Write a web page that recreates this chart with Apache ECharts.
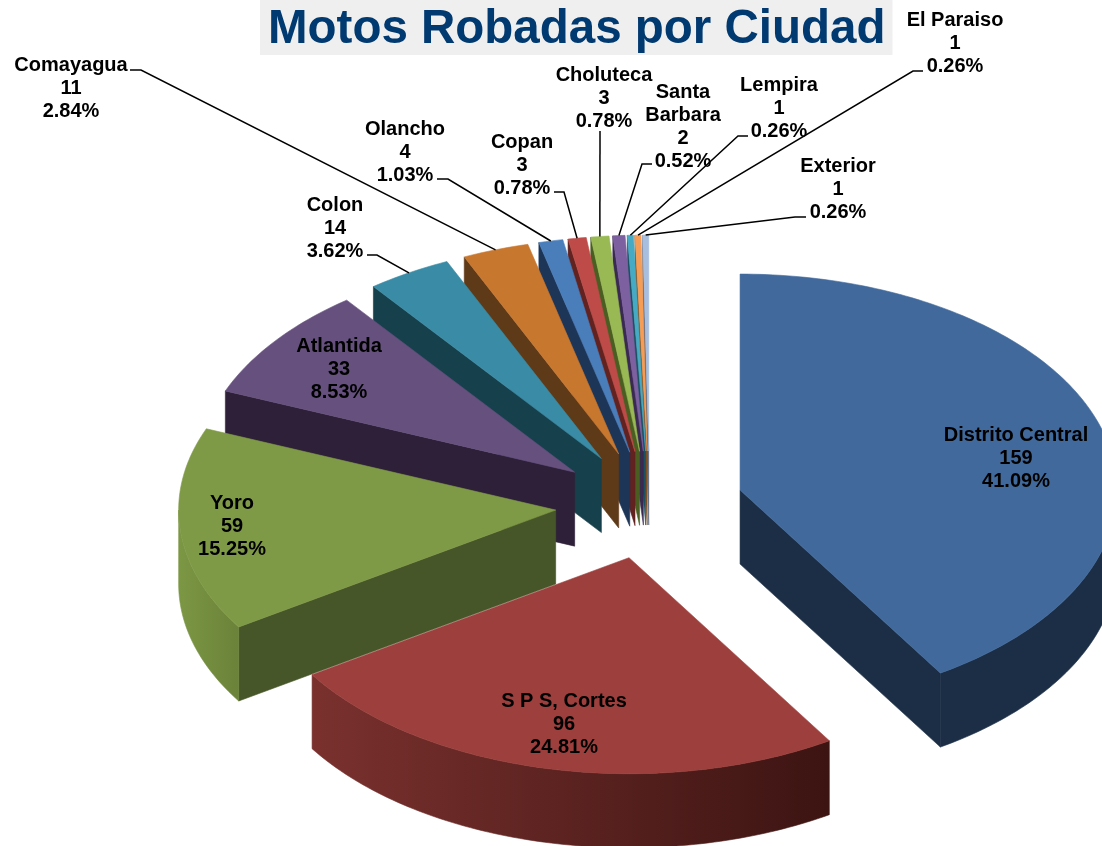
<!DOCTYPE html>
<html>
<head>
<meta charset="utf-8">
<title>Motos Robadas por Ciudad</title>
<script src="https://cdn.jsdelivr.net/npm/echarts@6/dist/echarts.min.js"></script>
<style>
  html, body { margin: 0; padding: 0; background: #fff; }
  #chart { width: 1102px; height: 846px; }
</style>
</head>
<body>
<div id="chart"></div>
<script>
const categories = ['Distrito Central', 'S P S, Cortes', 'Yoro', 'Atlantida', 'Colon', 'Comayagua', 'Olancho',
  'Copan', 'Choluteca', 'Santa\nBarbara', 'Lempira', 'El Paraiso', 'Exterior'];
const values = [159, 96, 59, 33, 14, 11, 4, 3, 3, 2, 1, 1, 1];

const topColors = ['#41699C', '#9C3F3D', '#7F9A46', '#66507E', '#3A8BA5', '#C8772F', '#4A7EBB',
  '#BE4B48', '#98B954', '#7D60A0', '#46AAC5', '#F59D56', '#A7BEDE'];
const sideColors = ['#1B2E45', '#5A2422', '#465628', '#2E2038', '#17404D', '#5F3A18', '#1D3557',
  '#612220', '#4A5E22', '#3A2A52', '#1C5060', '#8A4F1A', '#5A6478'];
// outer rim shading, left to right (only the slices that show a rim)
const rimColors = [['#1B2E45', '#1B2E45'], ['#7A312E', '#3C1412'], ['#7C9744', '#6A8239']];

// label centre, then leader line start and knee (null = label sits on the slice)
const labelCenters = [[1016, 458], [564, 724], [232, 526], [339, 369], [335, 228], [71, 88], [405, 152],
  [522, 165], [604, 98], [683, 127], [779, 108], [955, 43], [838, 189]];
const leaderKnees = [null, null, null, null, [[367, 255], [377, 255]], [[130, 70], [141, 70]],
  [[437, 179], [448, 179]], [[554, 192], [564, 192]], [[600, 131], [600, 131]], [[652, 164], [642, 164]],
  [[748, 136], [738, 136]], [[923, 71], [913, 71]], [[806, 217], [795, 217]]];

// pie geometry
const cx = 649.5, cy = 505, rx = 377, ry = 216, depth = 74, explode = 0.25;

const total = values.reduce((a, b) => a + b, 0);
const starts = [];
values.reduce((acc, v, i) => {
  starts[i] = acc;
  return acc + v / total * 360;
}, 0);

function point(angle, radius, ox, oy, dy) {
  const rad = angle * Math.PI / 180;
  return [ox + rx * radius * Math.sin(rad), oy - ry * radius * Math.cos(rad) + (dy || 0)];
}

function renderSlice(params, api) {
  const i = api.value(0);
  const a0 = starts[i];
  const a1 = a0 + api.value(1) / total * 360;
  const mid = (a0 + a1) / 2;
  const apex = point(mid, explode, cx, cy);
  const ox = apex[0], oy = apex[1];
  const children = [];

  const poly = (points, fill) => children.push({
    type: 'polygon',
    shape: { points },
    style: { fill, stroke: fill, lineWidth: 0.6 }
  });

  // radial walls that face the viewer
  [[a0, Math.sin(a0 * Math.PI / 180) < -1e-6], [a1, Math.sin(a1 * Math.PI / 180) > 1e-6]].forEach(s => {
    if (!s[1]) return;
    poly([[ox, oy], point(s[0], 1, ox, oy), point(s[0], 1, ox, oy, depth), [ox, oy + depth]], sideColors[i]);
  });

  // outer rim, front half of the ellipse only
  const r0 = Math.max(a0, 90), r1 = Math.min(a1, 270);
  if (r1 > r0) {
    const upper = [], lower = [];
    for (let a = r0; a < r1; a += 1) {
      upper.push(point(a, 1, ox, oy));
      lower.unshift(point(a, 1, ox, oy, depth));
    }
    upper.push(point(r1, 1, ox, oy));
    lower.unshift(point(r1, 1, ox, oy, depth));
    const rim = rimColors[i] || [sideColors[i], sideColors[i]];
    poly(upper.concat(lower), new echarts.graphic.LinearGradient(0, 0, 1, 0, [
      { offset: 0, color: rim[0] },
      { offset: 1, color: rim[1] }
    ]));
  }

  // top face
  const face = [[ox, oy]];
  for (let a = a0; a < a1; a += 1) face.push(point(a, 1, ox, oy));
  face.push(point(a1, 1, ox, oy));
  poly(face, topColors[i]);

  return { type: 'group', children };
}

function renderLabel(params, api) {
  const i = api.value(0);
  const center = labelCenters[i];
  const children = [];
  const knees = leaderKnees[i];
  if (knees) {
    const mid = starts[i] + values[i] / total * 180;
    const end = point(mid, 1 + explode, cx, cy);
    children.push({
      type: 'polyline',
      shape: { points: [knees[0], knees[1], end] },
      style: { stroke: '#000', lineWidth: 1.5, fill: null }
    });
  }
  children.push({
    type: 'text',
    style: {
      text: categories[i] + '\n' + values[i] + '\n' + (values[i] / total * 100).toFixed(2) + '%',
      x: center[0],
      y: center[1],
      align: 'center',
      verticalAlign: 'middle',
      lineHeight: 23,
      fill: '#000',
      font: 'bold 20px "Liberation Sans", Arial, sans-serif'
    }
  });
  return { type: 'group', children };
}

const drawOrder = categories.map((c, i) => i).reverse();

const option = {
  backgroundColor: '#fff',
  animation: false,
  title: {
    text: 'Motos Robadas por Ciudad',
    left: 260,
    top: 0,
    padding: [4, 7, 0, 8],
    backgroundColor: '#EFEFEF',
    textStyle: {
      color: '#003A70',
      fontFamily: '"Liberation Sans", Arial, sans-serif',
      fontWeight: 'bold',
      fontSize: 47.5,
      lineHeight: 51
    }
  },
  series: [
    {
      type: 'custom',
      coordinateSystem: 'none',
      renderItem: renderSlice,
      silent: true,
      data: drawOrder.map(i => ({ name: categories[i], value: [i, values[i]] }))
    },
    {
      type: 'custom',
      coordinateSystem: 'none',
      renderItem: renderLabel,
      silent: true,
      z: 3,
      data: drawOrder.map(i => ({ name: categories[i], value: [i, values[i]] }))
    }
  ]
};

const myChart = echarts.init(document.getElementById('chart'), null, { renderer: 'canvas' });
myChart.setOption(option);
</script>
</body>
</html>
